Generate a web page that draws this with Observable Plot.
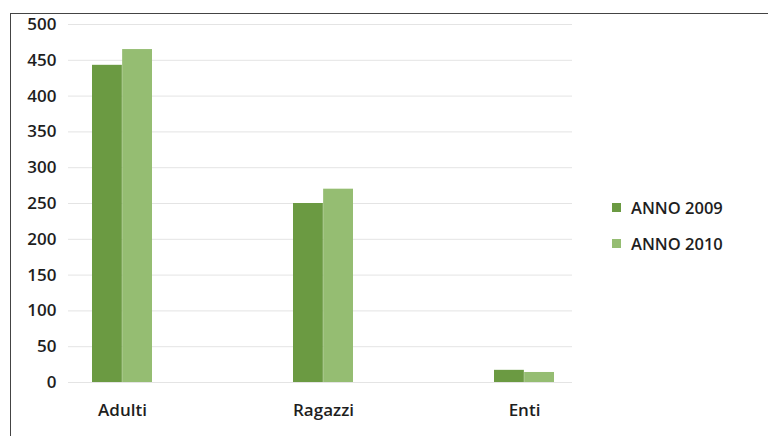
<!DOCTYPE html>
<html>
<head>
<meta charset="utf-8">
<script src="https://cdn.jsdelivr.net/npm/d3@7"></script>
<script src="https://cdn.jsdelivr.net/npm/@observablehq/plot@0.6"></script>
<style>
  html, body { margin: 0; padding: 0; background: #fff; }
  #wrap { position: relative; width: 768px; height: 436px; overflow: hidden; font-family: "Open Sans", Lato, sans-serif; }
  #frame { position: absolute; left: 10px; top: 13px; width: 800px; height: 500px; border-left: 1.5px solid #444; border-top: 1.5px solid #444; pointer-events: none; }
  #chart { position: absolute; left: 0; top: 0; }
  .leg { position: absolute; left: 612px; display: flex; align-items: center; font-size: 16.5px; font-weight: 600; color: #1e1e1e; }
  .leg .sw { width: 9px; height: 9px; margin-right: 10px; }
</style>
</head>
<body>
<div id="wrap">
  <div id="chart"></div>
  <div id="frame"></div>
  <div id="legend"></div>
</div>
<script>
const categories = ["Adulti", "Ragazzi", "Enti"];
const years = ["ANNO 2009", "ANNO 2010"];
const values2009 = [443, 250, 17];
const values2010 = [465, 270, 14];
const colors = ["#6b9a42", "#95bd72"];
const yTicks = [0, 50, 100, 150, 200, 250, 300, 350, 400, 450, 500];

const data = categories.flatMap((c, i) => [
  {cat: c, year: years[0], v: values2009[i]},
  {cat: c, year: years[1], v: values2010[i]}
]);

const xRange = [21.5, 624.5];
const padIn = 0.7, padOut = 0.35;
const step = (xRange[1] - xRange[0]) / (categories.length - padIn + 2 * padOut);
const half = step * (1 - padIn) / 2;

const chart = Plot.plot({
  width: 768,
  height: 436,
  marginLeft: 68,
  marginRight: 196,
  marginTop: 24,
  marginBottom: 54,
  style: {fontFamily: "'Open Sans', Lato, sans-serif", fontSize: "17px", fontWeight: 600, color: "#1e1e1e", background: "transparent"},
  x: {domain: categories, range: xRange, paddingInner: padIn, paddingOuter: padOut},
  y: {domain: [0, 500]},
  color: {domain: years, range: colors},
  marks: [
    Plot.gridY(yTicks, {stroke: "#e4e4e4", strokeOpacity: 1}),
    Plot.barY(data.filter(d => d.year === years[0]), {x: "cat", y: "v", fill: "year", insetRight: half}),
    Plot.barY(data.filter(d => d.year === years[1]), {x: "cat", y: "v", fill: "year", insetLeft: half}),
    Plot.axisY(yTicks, {tickSize: 0, tickPadding: 12, label: null}),
    Plot.axisX({tickSize: 0, tickPadding: 21, label: null})
  ]
});
document.getElementById("chart").appendChild(chart);

const legend = document.getElementById("legend");
years.forEach((y, i) => {
  const el = document.createElement("div");
  el.className = "leg";
  el.style.top = (196 + i * 36) + "px";
  el.innerHTML = `<span class="sw" style="background:${colors[i]}"></span><span>${y}</span>`;
  legend.appendChild(el);
});
</script>
</body>
</html>
